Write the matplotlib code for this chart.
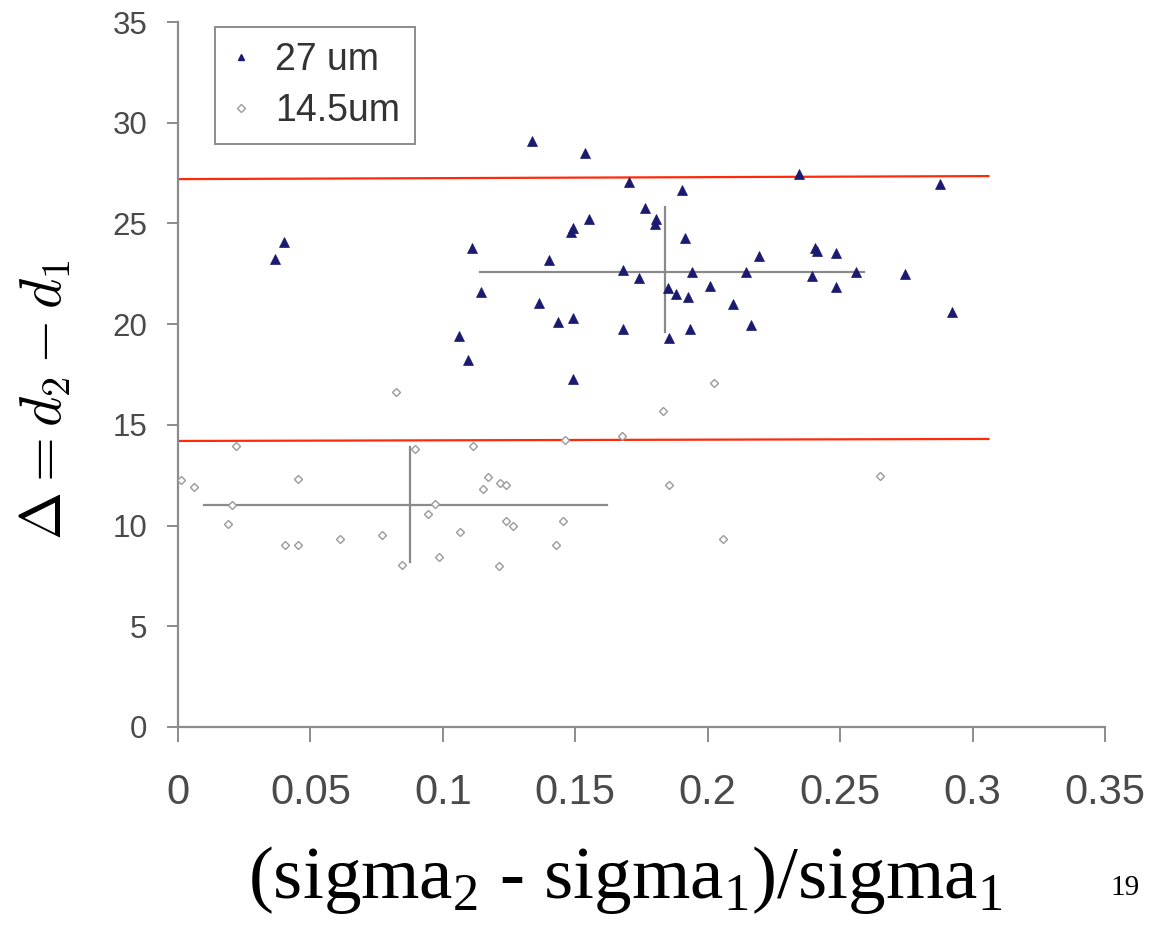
import matplotlib
matplotlib.use("Agg")
import matplotlib.pyplot as plt
from matplotlib.lines import Line2D

# ---- data ----
x_27 = [0.0367, 0.0401, 0.1062, 0.1096, 0.1110, 0.1144, 0.1338, 0.1364, 0.1402, 0.1436,
        0.1484, 0.1490, 0.1493, 0.1493, 0.1536, 0.1552, 0.1681, 0.1681, 0.1704, 0.1742,
        0.1763, 0.1800, 0.1806, 0.1851, 0.1855, 0.1879, 0.1904, 0.1916, 0.1926, 0.1933,
        0.1942, 0.2007, 0.2094, 0.2143, 0.2165, 0.2194, 0.2345, 0.2395, 0.2405, 0.2412,
        0.2484, 0.2484, 0.2560, 0.2746, 0.2877, 0.2924]
y_27 = [23.23, 24.06, 19.42, 18.24, 23.80, 21.60, 29.07, 21.05, 23.20, 20.10,
        24.55, 24.75, 20.30, 17.30, 28.50, 25.20, 22.70, 19.75, 27.05, 22.30,
        25.79, 24.95, 25.20, 21.80, 19.30, 21.50, 26.67, 24.30, 21.36, 19.75,
        22.57, 21.90, 21.00, 22.60, 19.95, 23.36, 27.43, 22.40, 23.80, 23.65,
        23.52, 21.86, 22.57, 22.50, 26.97, 20.60]

x_145 = [0.0011, 0.0062, 0.0190, 0.0202, 0.0219, 0.0404, 0.0454, 0.0454, 0.0612, 0.0772,
         0.0822, 0.0844, 0.0895, 0.0945, 0.0972, 0.0985, 0.1065, 0.1112, 0.1150, 0.1171,
         0.1212, 0.1216, 0.1238, 0.1240, 0.1263, 0.1426, 0.1454, 0.1463, 0.1675, 0.1832,
         0.1855, 0.2025, 0.2056, 0.2650]
y_145 = [12.25, 11.92, 10.07, 11.00, 13.94, 9.05, 9.05, 12.29, 9.33, 9.52,
         16.65, 8.06, 13.80, 10.55, 11.09, 8.43, 9.69, 13.94, 11.80, 12.40,
         7.98, 12.09, 11.99, 10.25, 10.00, 9.05, 10.21, 14.27, 14.47, 15.70,
         11.99, 17.10, 9.33, 12.44]

# threshold lines (x_start, x_end, y_start, y_end)
red_upper = [0.0, 0.306, 27.2, 27.35]
red_lower = [0.0, 0.306, 14.2, 14.3]

# cross marks: (h_x0, h_x1, h_y, v_x, v_y0, v_y1)
cross_27 = [0.114, 0.259, 22.6, 0.184, 19.6, 25.8]
cross_145 = [0.010, 0.162, 11.0, 0.0876, 8.2, 13.9]

x_ticks = [0, 0.05, 0.1, 0.15, 0.2, 0.25, 0.3, 0.35]
x_ticklabels = ["0", "0.05", "0.1", "0.15", "0.2", "0.25", "0.3", "0.35"]
y_ticks = [0, 5, 10, 15, 20, 25, 30, 35]

plt.rcParams['mathtext.fontset'] = 'custom'
plt.rcParams['mathtext.rm'] = 'Liberation Serif'

fig = plt.figure(figsize=(11.54, 9.32), dpi=100)
ax = fig.add_axes([178/1154, 1-727/932, (1105-178)/1154, (727-22)/932])

gray = '#8a8a8a'
ax.plot([red_upper[0], red_upper[1]], [red_upper[2], red_upper[3]], color='#ff2a0a', lw=1.6, zorder=2)
ax.plot([red_lower[0], red_lower[1]], [red_lower[2], red_lower[3]], color='#ff2a0a', lw=1.6, zorder=2)

for c in (cross_27, cross_145):
    ax.plot([c[0], c[1]], [c[2], c[2]], color=gray, lw=1.6, zorder=2)
    ax.plot([c[3], c[3]], [c[4], c[5]], color=gray, lw=1.6, zorder=2)

ax.plot(x_145, y_145, linestyle='none', marker='D', markersize=4.5, markerfacecolor='white',
        markeredgecolor='#9a9a9a', markeredgewidth=1.0, zorder=3, label='14.5um')
ax.plot(x_27, y_27, linestyle='none', marker='^', markersize=6.5, markerfacecolor='#1a1a70',
        markeredgecolor='#1a1a70', markeredgewidth=0.5, zorder=4, label='27 um')

ax.set_xlim(0, 0.35)
ax.set_ylim(0, 35)
ax.set_xticks(x_ticks)
ax.set_xticklabels(x_ticklabels)
ax.set_yticks(y_ticks)
for s in ('top', 'right'):
    ax.spines[s].set_visible(False)
for s in ('left', 'bottom'):
    ax.spines[s].set_color('#8c8c8c')
    ax.spines[s].set_linewidth(1.6)
ax.tick_params(axis='x', direction='out', length=11, width=1.4, color='#8c8c8c',
               labelsize=30, labelcolor='#4a4a4a', pad=22)
ax.tick_params(axis='y', direction='out', length=8, width=1.4, color='#8c8c8c',
               labelsize=22.5, labelcolor='#4a4a4a', pad=14)
for lab in ax.get_xticklabels() + ax.get_yticklabels():
    lab.set_family('Liberation Sans')

handles = [Line2D([], [], linestyle='none', marker='^', markersize=5, markerfacecolor='#1a1a70',
                  markeredgecolor='#1a1a70'),
           Line2D([], [], linestyle='none', marker='D', markersize=4, markerfacecolor='white',
                  markeredgecolor='#9a9a9a')]
leg = ax.legend(handles, ['27 um', '14.5um'], loc='upper left',
                bbox_to_anchor=((215-178)/927, 1-(27-22)/705), frameon=True, fancybox=False,
                edgecolor='#8c8c8c', framealpha=1, prop={'family': 'Liberation Sans', 'size': 27},
                handlelength=0.6, handletextpad=0.6, borderpad=0.4, labelspacing=0.4,
                borderaxespad=0)
leg.get_frame().set_linewidth(1.4)
for t in leg.get_texts():
    t.set_color('#333333')

fig.text(45/1154, 1-400/932, r'$\Delta = d_2 - d_1$', rotation=90, fontsize=41.5,
         ha='center', va='center', math_fontfamily='cm')
fig.text(625/1154, 1-880/932, r'(sigma$_2$ - sigma$_1$)/sigma$_1$', fontsize=54,
         family='Liberation Serif', ha='center', va='center')
fig.text(1125/1154, 1-888/932, '19', fontsize=21, family='Liberation Serif',
         ha='center', va='center')

fig.savefig('out.png', dpi=100, facecolor='white')
